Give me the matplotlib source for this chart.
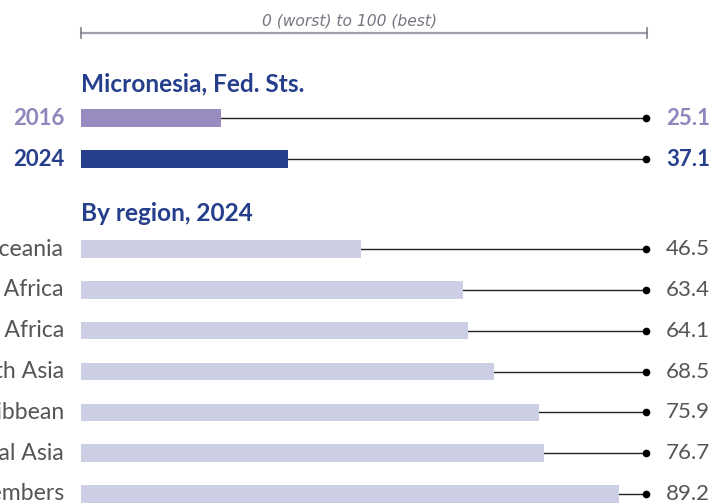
import matplotlib
matplotlib.use("Agg")
import matplotlib.pyplot as plt
from matplotlib.transforms import blended_transform_factory

# Data
years = ["2016", "2024"]
country_scores = [25.1, 37.1]
country_name = "Micronesia, Fed. Sts."

regions = ["Oceania", "Sub-Saharan Africa", "Middle East & North Africa",
           "East & South Asia", "Latin America & the Caribbean",
           "Eastern Europe & Central Asia", "OECD members"]
region_scores = [46.5, 63.4, 64.1, 68.5, 75.9, 76.7, 89.2]

plt.rcParams['font.family'] = ['Lato', 'DejaVu Sans']

W, H = 712, 504
fig = plt.figure(figsize=(W / 100, H / 100), dpi=100)

blue = "#263f8c"
purple = "#988bbf"
purple_txt = "#8c87bd"
lilac = "#cccfe4"
grey_txt = "#555555"


def fx(px):
    return px / W


def fy(py):
    return 1 - py / H


DOT_X = fx(646)
LEFT = fx(81)

# scale header
fig.add_artist(plt.Line2D([fx(81), fx(647)], [fy(33), fy(33)], color="#a0a0ac", lw=1.6))
for px in (81, 647):
    fig.add_artist(plt.Line2D([fx(px), fx(px)], [fy(28), fy(38)], color="#80808c", lw=1.2))
fig.text(fx(350), fy(21), "0 (worst) to 100 (best)", ha="center", va="center",
         fontsize=11.2, style="italic", color="#767682", family=["DejaVu Sans"])

# country panel + region panel (different x scales, as in the original)
ax1 = fig.add_axes([LEFT, fy(179.5), fx(557), 82 / H])
ax2 = fig.add_axes([LEFT, fy(514.4), fx(603), 285.8 / H])


def panel(ax, labels, values, colors, lab_colors, val_colors, weight, lab_size):
    n = len(values)
    ax.set_xlim(0, 100)
    ax.set_ylim(n - 0.5, -0.5)
    ax.axis("off")
    ypos = list(range(n))
    ax.barh(ypos, values, height=0.43, color=colors, zorder=2)
    tr = blended_transform_factory(fig.transFigure, ax.transData)
    # dot x in data coords
    dot_data = ax.transData.inverted().transform(fig.transFigure.transform((DOT_X, 0)))[0]
    for y, v, lab, lc, vc in zip(ypos, values, labels, lab_colors, val_colors):
        ax.plot([v, dot_data], [y, y], color="#222222", lw=1.0, zorder=1, clip_on=False)
        ax.plot([dot_data], [y], "o", color="black", ms=4.5, clip_on=False, zorder=3)
        ax.text(fx(64), y, lab, transform=tr, ha="right", va="center",
                fontsize=lab_size, color=lc, fontweight=weight)
        ax.text(fx(666), y, f"{v:.1f}", transform=tr, ha="left", va="center",
                fontsize=16, color=vc, fontweight=weight)


panel(ax1, years, country_scores, [purple, blue], [purple_txt, blue], [purple_txt, blue],
      "bold", 16)
panel(ax2, regions, region_scores, [lilac] * len(regions), [grey_txt] * len(regions),
      [grey_txt] * len(regions), "normal", 16.6)

fig.text(LEFT, fy(91), country_name, ha="left", va="baseline", fontsize=17.6,
         fontweight="bold", color=blue)
fig.text(LEFT, fy(221), "By region, 2024", ha="left", va="baseline", fontsize=17.6,
         fontweight="bold", color=blue)

fig.savefig("out.png", dpi=100)
